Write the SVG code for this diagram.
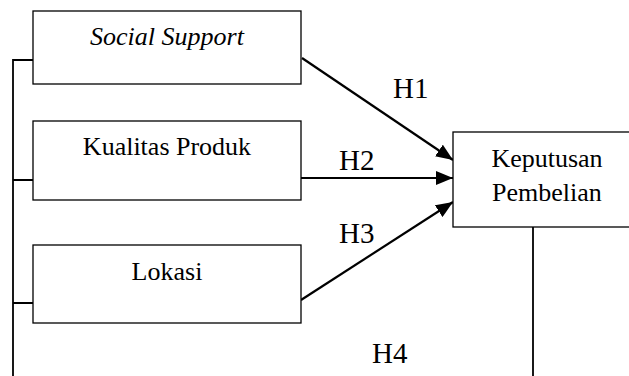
<svg xmlns="http://www.w3.org/2000/svg" width="629" height="376" viewBox="0 0 629 376">
<style>
.box{fill:#fff;stroke:#000;stroke-width:1.3}
.t{font-family:"Liberation Serif","Times New Roman",serif;font-size:26px;fill:#000;text-anchor:middle}
.h{font-family:"Liberation Serif","Times New Roman",serif;font-size:29px;fill:#000}
.ln{fill:none;stroke:#000;stroke-width:1.8}
.ar{fill:none;stroke:#000;stroke-width:2.2;marker-end:url(#ah)}
</style>
<defs>
<marker id="ah" markerUnits="userSpaceOnUse" markerWidth="18" markerHeight="14" refX="17" refY="7" orient="auto">
<path d="M0,0 L17,7 L0,14 Z" fill="#000"/>
</marker>
</defs>
<g id="connectors">
<path class="ln" d="M33,60 H13 V376 M13,180 H33 M13,303 H33"/>
<path class="ln" d="M533,227 V376"/>
<line class="ar" x1="302" y1="58" x2="453" y2="160"/>
<line class="ar" x1="301" y1="178" x2="453" y2="178"/>
<line class="ar" x1="301" y1="300" x2="453" y2="202"/>
<text class="h" x="393" y="98">H1</text>
<text class="h" x="339" y="170">H2</text>
<text class="h" x="339" y="243">H3</text>
<text class="h" x="372" y="363">H4</text>
</g>
<g id="social-support">
<rect class="box" x="33" y="11" width="268" height="73"/>
<text class="t" x="167" y="45" font-style="italic">Social Support</text>
</g>
<g id="kualitas-produk">
<rect class="box" x="33" y="121" width="268" height="79"/>
<text class="t" x="167" y="155">Kualitas Produk</text>
</g>
<g id="lokasi">
<rect class="box" x="33" y="245" width="268" height="78"/>
<text class="t" x="167" y="280">Lokasi</text>
</g>
<g id="keputusan-pembelian">
<rect class="box" x="453" y="132" width="190" height="95"/>
<text class="t" x="547" y="167">Keputusan</text>
<text class="t" x="547" y="201">Pembelian</text>
</g>
</svg>
